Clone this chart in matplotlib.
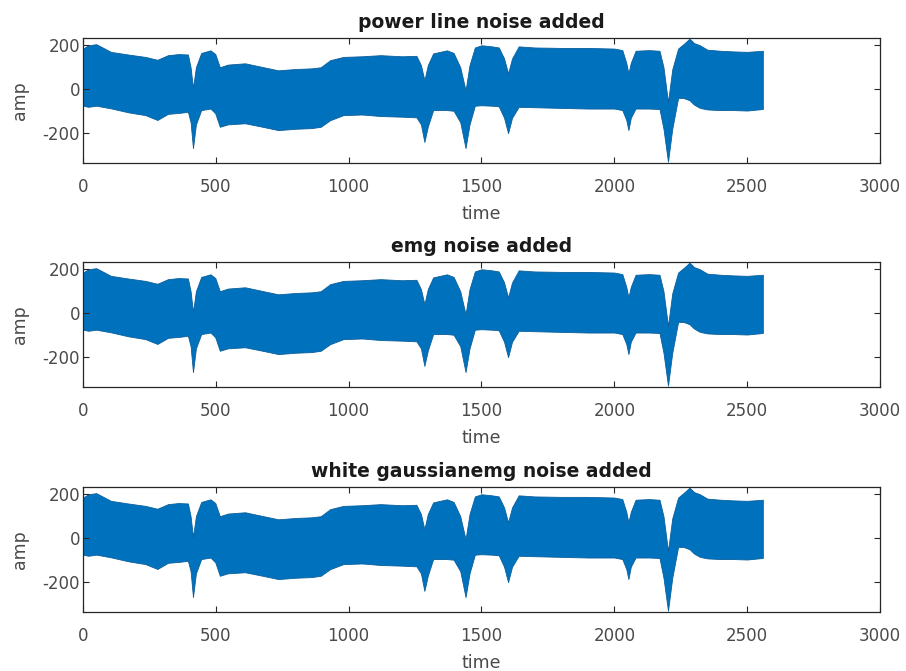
import numpy as np
import matplotlib
matplotlib.use("Agg")
import matplotlib.pyplot as plt

# SETTINGS
plt.rcParams['font.family'] = ['DejaVu Sans']
plt.rcParams['axes.unicode_minus'] = False
LINE_COLOR = "#0072BD"
AXIS_COLOR = "#262626"

titles = ["power line noise added", "emg noise added", "white gaussianemg noise added"]

# envelope of the dense noisy signal (sample index, upper and lower amplitude)
t_env = [0, 20, 50, 105, 170, 235, 280, 320, 360, 395, 405, 414, 425, 445, 480,
         498, 515, 545, 610, 680, 735, 800, 860, 895, 930, 980, 1050, 1120, 1200,
         1255, 1272, 1285, 1298, 1318, 1370, 1395, 1420, 1440, 1455, 1475, 1500,
         1540, 1565, 1585, 1600, 1615, 1640, 1700, 1800, 1900, 2000, 2030, 2045,
         2053, 2062, 2080, 2130, 2170, 2185, 2202, 2218, 2240, 2260, 2283, 2300,
         2322, 2350, 2400, 2450, 2500, 2559]
upper = [185, 200, 205, 170, 158, 147, 134, 155, 160, 158, 100, 5, 100, 165, 177,
         160, 100, 112, 118, 100, 86, 92, 95, 100, 132, 147, 150, 155, 150,
         152, 110, 41, 110, 163, 177, 165, 100, -5, 110, 190, 200,
         195, 190, 140, 72, 140, 195, 190, 188, 188, 185, 178, 120,
         72, 120, 175, 178, 175, 100, -58, 90, 185, 205, 230, 210,
         200, 180, 175, 172, 170, 175]
lower = [-75, -80, -75, -87, -105, -118, -140, -112, -108, -103, -150, -268, -160, -95, -88,
         -110, -171, -160, -155, -172, -186, -180, -177, -171, -141, -118, -115, -122, -125,
         -128, -160, -240, -170, -95, -95, -98, -150, -268, -160, -75, -73,
         -75, -78, -130, -200, -130, -80, -82, -85, -88, -88, -95, -140,
         -186, -130, -88, -88, -90, -180, -330, -180, -40, -40, -50, -70,
         -85, -92, -95, -95, -97, -90]

# axes positions [left, bottom, width, height] in figure fraction
positions = [[0.0916, 0.757, 0.8797, 0.186],
             [0.0916, 0.4232, 0.8797, 0.186],
             [0.0916, 0.0879, 0.8797, 0.186]]

fig = plt.figure(figsize=(9.06, 6.71), dpi=100)

for title, pos in zip(titles, positions):
    ax = fig.add_axes(pos)
    ax.fill_between(t_env, lower, upper, color=LINE_COLOR, linewidth=0.6,
                    edgecolor="#0a5f9c")
    ax.set_xlim(0, 3000)
    ax.set_ylim(-336, 232)
    ax.set_xticks(np.arange(0, 3001, 500))
    ax.set_yticks([-200, 0, 200])
    ax.tick_params(direction="in", top=True, right=True, length=4,
                   labelsize=12, colors=AXIS_COLOR, labelcolor="#4a4a4a")
    ax.tick_params(axis="x", pad=11)
    ax.tick_params(axis="y", pad=2)
    for s in ax.spines.values():
        s.set_color(AXIS_COLOR)
        s.set_linewidth(0.9)
    ax.set_title(title, fontsize=13.5, fontweight="bold", color="#1a1a1a", pad=7.5)
    ax.set_xlabel("time", fontsize=12.5, color="#4a4a4a", labelpad=6)
    ax.set_ylabel("amp", fontsize=12.5, color="#4a4a4a", labelpad=10)

plt.savefig("out.png", dpi=100, facecolor="white")
